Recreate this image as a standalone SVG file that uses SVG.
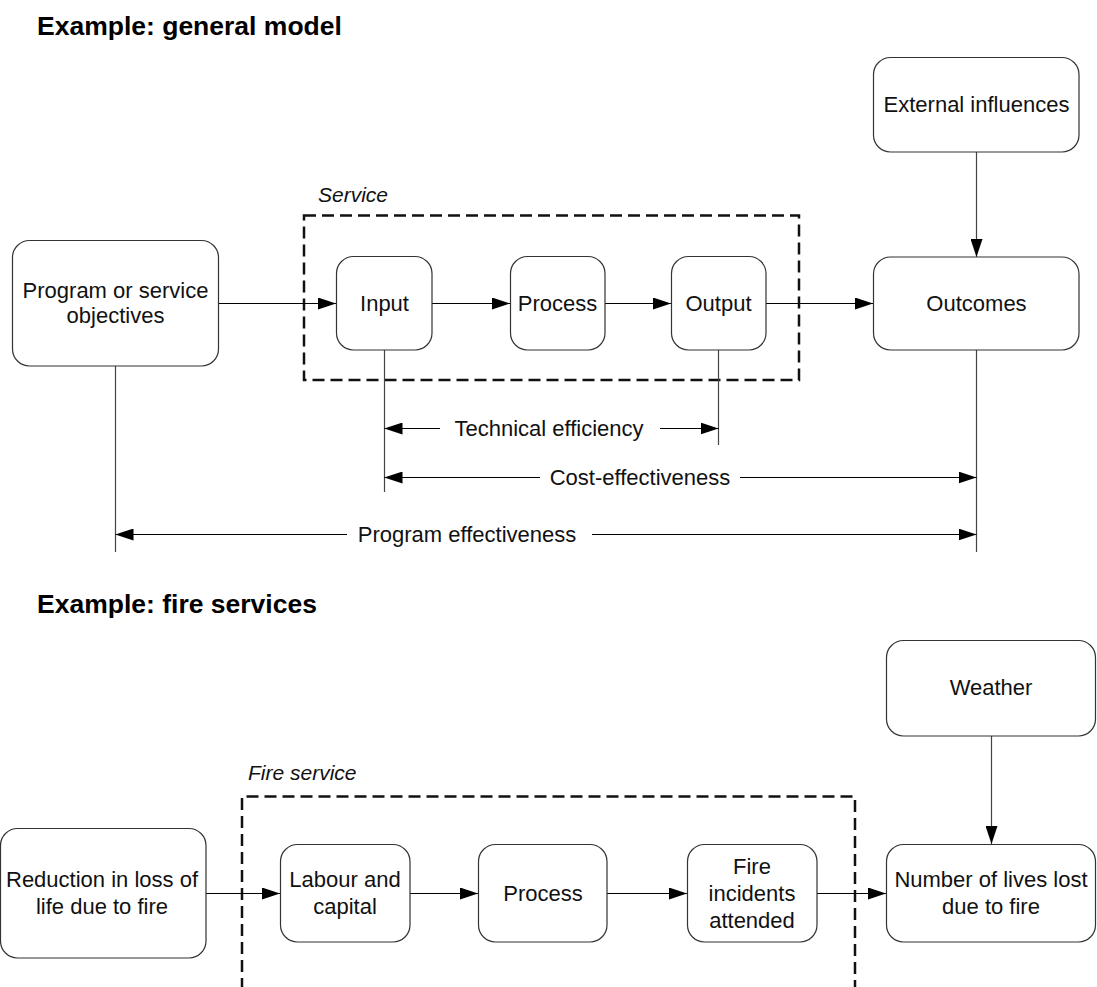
<svg xmlns="http://www.w3.org/2000/svg" width="1097" height="987" viewBox="0 0 1097 987">
<style>
.bg{fill:#fff}
.box{fill:#fff;stroke:#333;stroke-width:1.2}
.t{font-family:"Liberation Sans",Arial,sans-serif;font-size:22px;fill:#111;text-anchor:middle}
.title{font-family:"Liberation Sans",Arial,sans-serif;font-size:26.5px;font-weight:bold;fill:#000}
.lbl{font-family:"Liberation Sans",Arial,sans-serif;font-size:21px;font-style:italic;fill:#111}
.dash{fill:none;stroke:#111;stroke-width:2.5;stroke-dasharray:12 6}
.c{fill:none;stroke:#000;stroke-width:1.2}
.v{fill:none;stroke:#444;stroke-width:1.2}
</style>
<defs>
<marker id="ah" viewBox="0 0 18 12" refX="18" refY="6" markerWidth="18" markerHeight="12" markerUnits="userSpaceOnUse" orient="auto">
<path d="M0,0 L18,6 L0,12 z" fill="#000"/>
</marker>
</defs>
<rect class="bg" x="0" y="0" width="1097" height="987"/>

<text class="title" x="37" y="35">Example: general model</text>
<text class="title" x="37" y="613">Example: fire services</text>

<g id="service-group">
<rect class="dash" x="304" y="215.5" width="495" height="164.5"/>
<text class="lbl" x="318" y="202">Service</text>
</g>

<g id="fire-service-group">
<path class="dash" d="M242,990 V796.5 H855 V990"/>
<text class="lbl" x="248" y="780">Fire service</text>
</g>

<g id="connectors">
<line class="c" x1="218" y1="303.5" x2="336" y2="303.5" marker-end="url(#ah)"/>
<line class="c" x1="432" y1="303.5" x2="510" y2="303.5" marker-end="url(#ah)"/>
<line class="c" x1="605" y1="303.5" x2="671" y2="303.5" marker-end="url(#ah)"/>
<line class="c" x1="766" y1="303.5" x2="873" y2="303.5" marker-end="url(#ah)"/>
<line class="v" x1="976.5" y1="152" x2="976.5" y2="257" marker-end="url(#ah)"/>

<line class="v" x1="115.5" y1="366" x2="115.5" y2="552"/>
<line class="v" x1="384.5" y1="350" x2="384.5" y2="492"/>
<line class="v" x1="718.5" y1="350" x2="718.5" y2="445"/>
<line class="v" x1="976.5" y1="350" x2="976.5" y2="552"/>

<line class="c" x1="440" y1="428.5" x2="384.5" y2="428.5" marker-end="url(#ah)"/>
<line class="c" x1="660" y1="428.5" x2="718.5" y2="428.5" marker-end="url(#ah)"/>
<text class="t" x="549" y="436">Technical efficiency</text>

<line class="c" x1="540" y1="477.5" x2="384.5" y2="477.5" marker-end="url(#ah)"/>
<line class="c" x1="740" y1="477.5" x2="976.5" y2="477.5" marker-end="url(#ah)"/>
<text class="t" x="640" y="485">Cost-effectiveness</text>

<line class="c" x1="347" y1="534.5" x2="115.5" y2="534.5" marker-end="url(#ah)"/>
<line class="c" x1="592" y1="534.5" x2="976.5" y2="534.5" marker-end="url(#ah)"/>
<text class="t" x="467" y="542">Program effectiveness</text>

<line class="c" x1="206" y1="893.5" x2="280" y2="893.5" marker-end="url(#ah)"/>
<line class="c" x1="410" y1="893.5" x2="478" y2="893.5" marker-end="url(#ah)"/>
<line class="c" x1="607" y1="893.5" x2="687" y2="893.5" marker-end="url(#ah)"/>
<line class="c" x1="817" y1="893.5" x2="886" y2="893.5" marker-end="url(#ah)"/>
<line class="v" x1="991.5" y1="736" x2="991.5" y2="844" marker-end="url(#ah)"/>
</g>

<g id="objectives">
<rect class="box" x="12.5" y="240.5" width="206" height="125.5" rx="17"/>
<text class="t" x="115.5" y="298">Program or service</text>
<text class="t" x="115.5" y="323">objectives</text>
</g>
<g id="input">
<rect class="box" x="336.5" y="256.5" width="95.5" height="93.5" rx="17"/>
<text class="t" x="384.5" y="311">Input</text>
</g>
<g id="process">
<rect class="box" x="510.5" y="256.5" width="94.5" height="93.5" rx="17"/>
<text class="t" x="557.5" y="311">Process</text>
</g>
<g id="output">
<rect class="box" x="671.5" y="256.5" width="94.5" height="93.5" rx="17"/>
<text class="t" x="718.5" y="311">Output</text>
</g>
<g id="outcomes">
<rect class="box" x="873.5" y="257" width="205.5" height="93" rx="17"/>
<text class="t" x="976.5" y="311">Outcomes</text>
</g>
<g id="external">
<rect class="box" x="873.5" y="57.5" width="205.5" height="94.5" rx="17"/>
<text class="t" x="976.5" y="112">External influences</text>
</g>

<g id="reduction">
<rect class="box" x="0.5" y="828.5" width="205.5" height="129.5" rx="17"/>
<text class="t" x="102" y="887">Reduction in loss of</text>
<text class="t" x="102" y="914">life due to fire</text>
</g>
<g id="labour">
<rect class="box" x="280.5" y="844.5" width="129.5" height="97.5" rx="17"/>
<text class="t" x="345" y="887">Labour and</text>
<text class="t" x="345" y="914">capital</text>
</g>
<g id="process2">
<rect class="box" x="478.5" y="844.5" width="128.5" height="97.5" rx="17"/>
<text class="t" x="543" y="901">Process</text>
</g>
<g id="incidents">
<rect class="box" x="687.5" y="844.5" width="129.5" height="97.5" rx="17"/>
<text class="t" x="752" y="874">Fire</text>
<text class="t" x="752" y="901">incidents</text>
<text class="t" x="752" y="928">attended</text>
</g>
<g id="lives">
<rect class="box" x="886.5" y="844.5" width="209" height="97.5" rx="17"/>
<text class="t" x="991" y="887">Number of lives lost</text>
<text class="t" x="991" y="914">due to fire</text>
</g>
<g id="weather">
<rect class="box" x="886.5" y="640.5" width="209" height="95.5" rx="17"/>
<text class="t" x="991" y="695">Weather</text>
</g>
</svg>
